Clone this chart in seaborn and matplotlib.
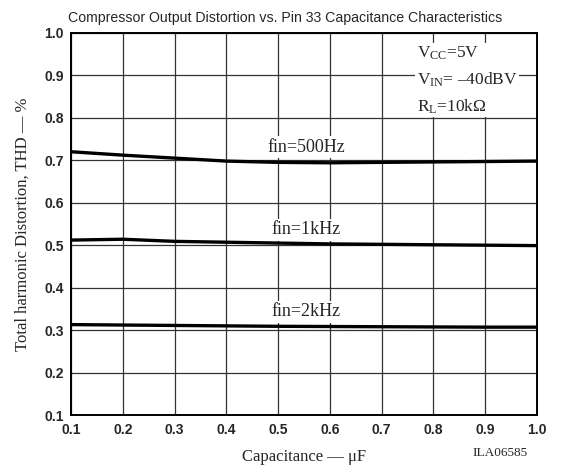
import matplotlib
matplotlib.use("Agg")
import matplotlib.pyplot as plt
import seaborn as sns
import pandas as pd

cap_500 = [0.1, 0.2, 0.3, 0.4, 0.5, 0.6, 0.7, 0.8, 0.9, 1.0]
thd_500 = [0.720, 0.712, 0.705, 0.698, 0.695, 0.694, 0.695, 0.696, 0.697, 0.698]
cap_1k = [0.1, 0.15, 0.2, 0.3, 0.4, 0.5, 0.6, 0.7, 0.8, 0.9, 1.0]
thd_1k = [0.512, 0.513, 0.514, 0.509, 0.507, 0.505, 0.503, 0.502, 0.501, 0.500, 0.499]
cap_2k = [0.1, 0.3, 0.5, 0.7, 0.9, 1.0]
thd_2k = [0.313, 0.311, 0.309, 0.308, 0.307, 0.307]
series_names = ["fin=500Hz", "fin=1kHz", "fin=2kHz"]
ticks = [0.1, 0.2, 0.3, 0.4, 0.5, 0.6, 0.7, 0.8, 0.9, 1.0]
tick_labels = ["0.1", "0.2", "0.3", "0.4", "0.5", "0.6", "0.7", "0.8", "0.9", "1.0"]

df = pd.concat([
    pd.DataFrame({"cap": cap_500, "thd": thd_500, "series": series_names[0]}),
    pd.DataFrame({"cap": cap_1k, "thd": thd_1k, "series": series_names[1]}),
    pd.DataFrame({"cap": cap_2k, "thd": thd_2k, "series": series_names[2]}),
])

sns.set_style("white")
plt.rcParams["font.family"] = ["Liberation Sans", "DejaVu Sans"]
plt.rcParams["mathtext.fontset"] = "custom"
plt.rcParams["mathtext.rm"] = "Liberation Serif"
plt.rcParams["mathtext.it"] = "Liberation Serif:italic"

fig = plt.figure(figsize=(5.64, 4.69), dpi=100)
ax = fig.add_axes([0.126, 0.115, 0.826, 0.815])

ax.set_xlim(0.1, 1.0)
ax.set_ylim(0.1, 1.0)
ax.set_xticks(ticks)
ax.set_yticks(ticks)
ax.set_xticklabels(tick_labels, fontweight="bold", fontsize=10)
ax.set_yticklabels(tick_labels, fontweight="bold", fontsize=10)
ax.tick_params(axis="x", length=0, pad=6)
ax.tick_params(axis="y", length=0, pad=5)
ax.grid(True, color="#333333", linewidth=0.9)
ax.set_axisbelow(True)
for s in ax.spines.values():
    s.set_color("black")
    s.set_linewidth(1.4)

sns.lineplot(data=df, x="cap", y="thd", hue="series", palette=["black"] * 3,
             linewidth=2.4, legend=False, ax=ax, estimator=None, sort=True)

serif = ["Liberation Serif", "DejaVu Serif"]
lab_pos = [(0.554, 0.731), (0.554, 0.536), (0.554, 0.343)]
for name, (x, y) in zip(series_names, lab_pos):
    ax.text(x, y, name, ha="center", va="center", fontsize=13, family=serif,
            bbox=dict(facecolor="white", edgecolor="none", pad=1.5))

fig.text(0.505, 0.962, "Compressor Output Distortion vs. Pin 33 Capacitance Characteristics",
         ha="center", va="center", fontsize=10.2)

ax.text(0.768, 0.972, "V$_{\\rm CC}$=5V\nV$_{\\rm IN}$= \u201340dBV\nR$_{\\rm L}$=10k\u03a9",
        ha="left", va="top", fontsize=12.5, family=serif, linespacing=1.6,
        bbox=dict(facecolor="white", edgecolor="none", pad=1))

ax.set_xlabel("Capacitance \u2014 \u03bcF", fontsize=12, family=serif, labelpad=8)
ax.set_ylabel("Total harmonic Distortion, THD \u2014 %", fontsize=12, family=serif, labelpad=10)
fig.text(0.887, 0.034, "ILA06585", ha="center", va="center", fontsize=9.5, family=serif)

fig.savefig("out.png", dpi=100)
